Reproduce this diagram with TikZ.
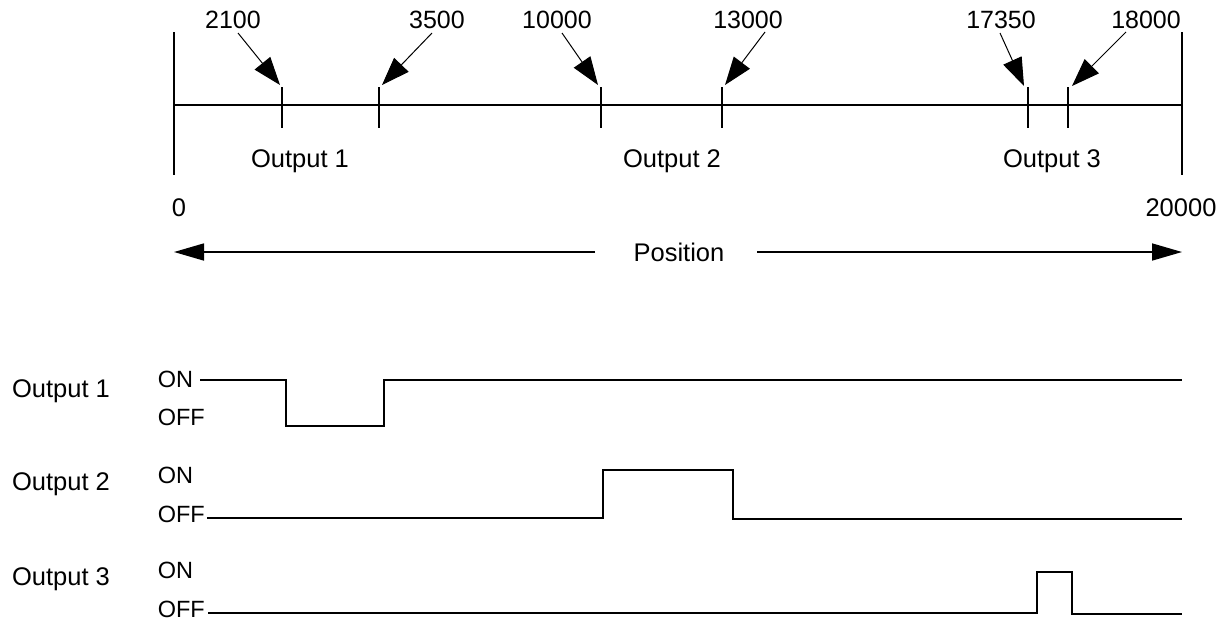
\documentclass[tikz,border=0pt]{standalone}
\usepackage{fontspec}
\setmainfont{Liberation Sans}
\usetikzlibrary{arrows.meta}
\begin{document}
\begin{tikzpicture}[x=1pt,y=-1pt,line width=1.6pt,
  numlbl/.style={font=\fontsize{25}{29}\selectfont,inner sep=0,anchor=base},
  biglbl/.style={font=\fontsize{25.5}{30}\selectfont,inner sep=0,anchor=base},
  statelbl/.style={font=\fontsize{23.5}{27}\selectfont,inner sep=0,anchor=base west},
  ptr/.style={line width=1pt,-{Triangle[length=28pt,width=20pt]}},
  harrow/.style={-{Triangle[length=30pt,width=17pt]}},
  wave/.style={line width=1.6pt}]
\useasboundingbox (0,0) rectangle (1225,622);
% axis
\coordinate (L) at (174,105);
\coordinate (R) at (1182,105);
\draw (L) -- (R);
\draw (174,32) -- (174,175);
\draw (1182,32) -- (1182,175);
\foreach \nm/\xx in {a/282,b/379,c/601,d/722,e/1028,f/1068}{
  \draw (\xx,87) -- (\xx,128);
  \coordinate (t\nm) at (\xx-1,86);
}
% labels and pointers
\node[numlbl] (na) at (233,28) {2100};
\node[numlbl] (nb) at (437,28) {3500};
\node[numlbl] (nc) at (557,28) {10000};
\node[numlbl] (nd) at (748,28) {13000};
\node[numlbl] (ne) at (1001,28) {17350};
\node[numlbl] (nf) at (1146,28) {18000};
\coordinate (sa) at (238,33);
\coordinate (sb) at (432,33);
\coordinate (sc) at (562,33);
\coordinate (sd) at (765,32);
\coordinate (se) at (1000,33);
\coordinate (sf) at (1126,32);
\draw[ptr] (sa) -- (280,85);
\draw[ptr] (sb) -- (382,85);
\draw[ptr] (sc) -- (598,85);
\draw[ptr] (sd) -- (725,85);
\draw[ptr] (se) -- (1024,86);
\draw[ptr] (sf) -- (1072,86);
\node[biglbl] (o1) at (300,167) {Output 1};
\node[biglbl] (o2) at (672,167) {Output 2};
\node[biglbl] (o3) at (1052,167) {Output 3};
\node[biglbl] (zero) at (179,216) {0};
\node[biglbl] (max) at (1181,216) {20000};
% position arrow
\node[biglbl] (pos) at (679,261) {Position};
\coordinate (pl) at (174,252);
\coordinate (pr) at (1182,252);
\draw[harrow] (595,252) -- (pl);
\draw[harrow] (757,252) -- (pr);
% output labels
\node[biglbl] (w1) at (61,397) {Output 1};
\node[biglbl] (w2) at (61,490) {Output 2};
\node[biglbl] (w3) at (61,585) {Output 3};
\node[statelbl] (on1) at (157,387) {ON};
\node[statelbl] (off1) at (157,425) {OFF};
\node[statelbl] (on2) at (157,483) {ON};
\node[statelbl] (off2) at (157,522) {OFF};
\node[statelbl] (on3) at (157,578) {ON};
\node[statelbl] (off3) at (157,617) {OFF};
% waveforms
\draw[wave] (200,380) -- (286,380) -- (286,426) -- (384,426) -- (384,380) -- (1182,380);
\draw[wave] (207,518) -- (603,518) -- (603,470) -- (733,470) -- (733,519) -- (1182,519);
\draw[wave] (208,613) -- (1037,613) -- (1037,572) -- (1072,572) -- (1072,614) -- (1182,614);
\end{tikzpicture}
\end{document}
